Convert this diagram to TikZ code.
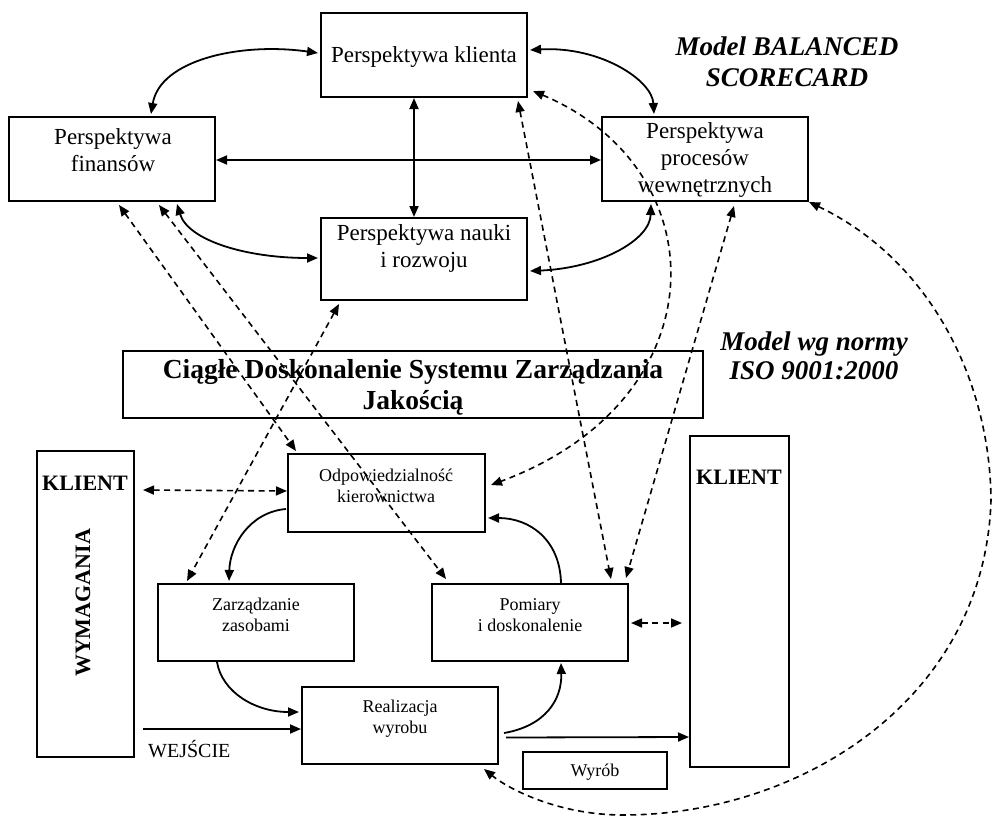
\documentclass[tikz,border=0pt]{standalone}
\usepackage{fontspec}
\setmainfont{Liberation Serif}
\usetikzlibrary{arrows.meta,calc}
\begin{document}
\begin{tikzpicture}[x=1pt,y=-1pt,
  box/.style={draw, line width=2pt, inner sep=0pt},
  lbl/.style={align=center, inner sep=0pt},
  big/.style={font=\fontsize{23}{27}\selectfont},
  small/.style={font=\fontsize{18}{21}\selectfont},
  head/.style={font=\bfseries\itshape\fontsize{27}{31}\selectfont},
  tipA/.tip={Triangle[length=11pt,width=9pt]},
  both/.style={line width=1.8pt, tipA-tipA},
  one/.style={line width=1.8pt, -tipA},
  dboth/.style={line width=1.6pt, dash pattern=on 6pt off 4.5pt, tipA-tipA},
]
\useasboundingbox (0,0) rectangle (993,817);

% ---- Balanced Scorecard perspectives ----
\node[box, minimum width=206pt, minimum height=84pt] (kli) at (424,55) {};
\node[box, minimum width=206pt, minimum height=84pt] (fin) at (112,159) {};
\node[box, minimum width=206pt, minimum height=84pt] (pro) at (705,159) {};
\node[box, minimum width=206pt, minimum height=82pt] (nau) at (424,259) {};

\node[lbl, big] (kli-t) at (424,57) {Perspektywa klienta};
\node[lbl, big] (fin-t) at (113,150) {Perspektywa\\finansów};
\node[lbl, big] (pro-t) at (705,160) {Perspektywa\\procesów\\wewnętrznych};
\node[lbl, big] (nau-t) at (424,248) {Perspektywa nauki\\i rozwoju};

\node[lbl, head] (bsc) at (787,62) {Model BALANCED\\SCORECARD};

% ---- ISO 9001 process model ----
\node[box, minimum width=580pt, minimum height=67pt] (cdq) at (413,384.5) {};
\node[lbl, font=\bfseries\fontsize{27.5}{31}\selectfont] (cdq-t) at (413,387)
  {Ciągłe Doskonalenie Systemu Zarządzania\\Jakością};
\node[lbl, head, font=\bfseries\itshape\fontsize{27}{29}\selectfont] (iso) at (814,356)
  {Model wg normy\\ISO 9001:2000};

\node[box, minimum width=97pt, minimum height=306pt] (kl1) at (85.5,604) {};
\node[box, minimum width=99pt, minimum height=331pt] (kl2) at (739.5,601.5) {};
\node[lbl, font=\bfseries\fontsize{22}{26}\selectfont] (kl1-t) at (85,483) {KLIENT};
\node[lbl, font=\bfseries\fontsize{22}{26}\selectfont] (kl2-t) at (739,477) {KLIENT};
\node[lbl, font=\bfseries\fontsize{22}{26}\selectfont, rotate=90] (wym) at (83,603) {WYMAGANIA};

\node[box, minimum width=197pt, minimum height=78pt] (odp) at (386.5,493) {};
\node[box, minimum width=196pt, minimum height=77pt] (zar) at (256,622.5) {};
\node[box, minimum width=196pt, minimum height=77pt] (pom) at (530,622.5) {};
\node[box, minimum width=196pt, minimum height=77pt] (rea) at (400,725.5) {};
\node[box, minimum width=144pt, minimum height=37pt] (wyr) at (595,770.5) {};

\node[lbl, small] (odp-t) at (386,486) {Odpowiedzialność\\kierownictwa};
\node[lbl, small] (zar-t) at (256,615) {Zarządzanie\\zasobami};
\node[lbl, small] (pom-t) at (530,615) {Pomiary\\i doskonalenie};
\node[lbl, small] (rea-t) at (400,719) {Realizacja\\wyrobu};
\node[lbl, small] (wyr-t) at (595,772) {Wyrób};
\node[lbl, font=\fontsize{20}{24}\selectfont, anchor=west] (wej) at (148,749) {WEJŚCIE};

% ---- links between perspectives ----
\draw[both] ($(kli.west)+(-2,-2)$) .. controls (240,42) and (160,60) .. ($(fin.north west)+(143,-2)$);
\draw[both] ($(kli.east)+(2,-5)$) .. controls (600,46) and (652,80) .. ($(pro.north west)+(53,-2)$);
\draw[both] ($(kli.south)+(-10,0)$) -- ($(nau.north)+(-10,0)$);
\draw[both] ($(fin.east)+(0,1)$) -- ($(pro.west)+(0,1)$);
\draw[both] ($(fin.south west)+(169,2)$) .. controls (188,240) and (245,258) .. ($(nau.west)+(-2,-1)$);
\draw[both] ($(nau.east)+(2,12)$) .. controls (600,268) and (650,240) .. ($(pro.south west)+(50,2)$);

% ---- dashed links between the two models ----
\draw[dboth] ($(fin.south west)+(111,3)$) -- ($(odp.north west)+(9,-2)$);
\draw[dboth] ($(fin.south west)+(151,3)$) -- ($(pom.north west)+(15,-4)$);
\draw[dboth] ($(nau.south west)+(19,3)$) -- ($(zar.north west)+(30,-2)$);
\draw[dboth] ($(kli.south east)+(-10,3)$) -- ($(pom.north east)+(-18,-4)$);
\draw[dboth] ($(kli.south east)+(5,-7)$) .. controls (720,170) and (720,400) .. ($(odp.east)+(5,-8)$);
\draw[dboth] ($(pro.south west)+(133,4)$) -- ($(pom.north east)+(-3,-5)$);
\draw[dboth] (pro.south east) .. controls (930,260) and (990,380) .. (991,500)
  .. controls (985,700) and (800,815) .. (623,815)
  .. controls (560,815) and (510,790) .. ($(rea.south east)+(-15,4)$);

% ---- process loop ----
\draw[dboth] ($(kl1.north east)+(8,40)$) -- ($(odp.west)+(0,-2)$);
\draw[one] ($(odp.south west)+(-1,-24)$) .. controls (250,512) and (230,545) .. ($(zar.north west)+(72,-2)$);
\draw[one] ($(pom.north west)+(130,0)$) .. controls (560,540) and (530,518) .. ($(odp.east)+(2,25)$);
\draw[one] ($(zar.south west)+(60,0)$) .. controls (222,692) and (255,712) .. ($(rea.west)+(-2,-13.5)$);
\coordinate (wej-start) at ($(kl1.east)+(8,125)$);
\draw[one] (wej-start) -- ($(rea.west)+(0,3.5)$);
\draw[one] ($(rea.east)+(5,7.5)$) .. controls (545,726) and (562,700) .. ($(pom.south west)+(130,1)$);
\draw[one] ($(rea.east)+(7,12)$) -- ($(kl2.west)+(0,135.5)$);
\draw[dboth] ($(pom.east)+(2,0.5)$) -- ($(kl2.west)+(-7,21.5)$);
\end{tikzpicture}
\end{document}
